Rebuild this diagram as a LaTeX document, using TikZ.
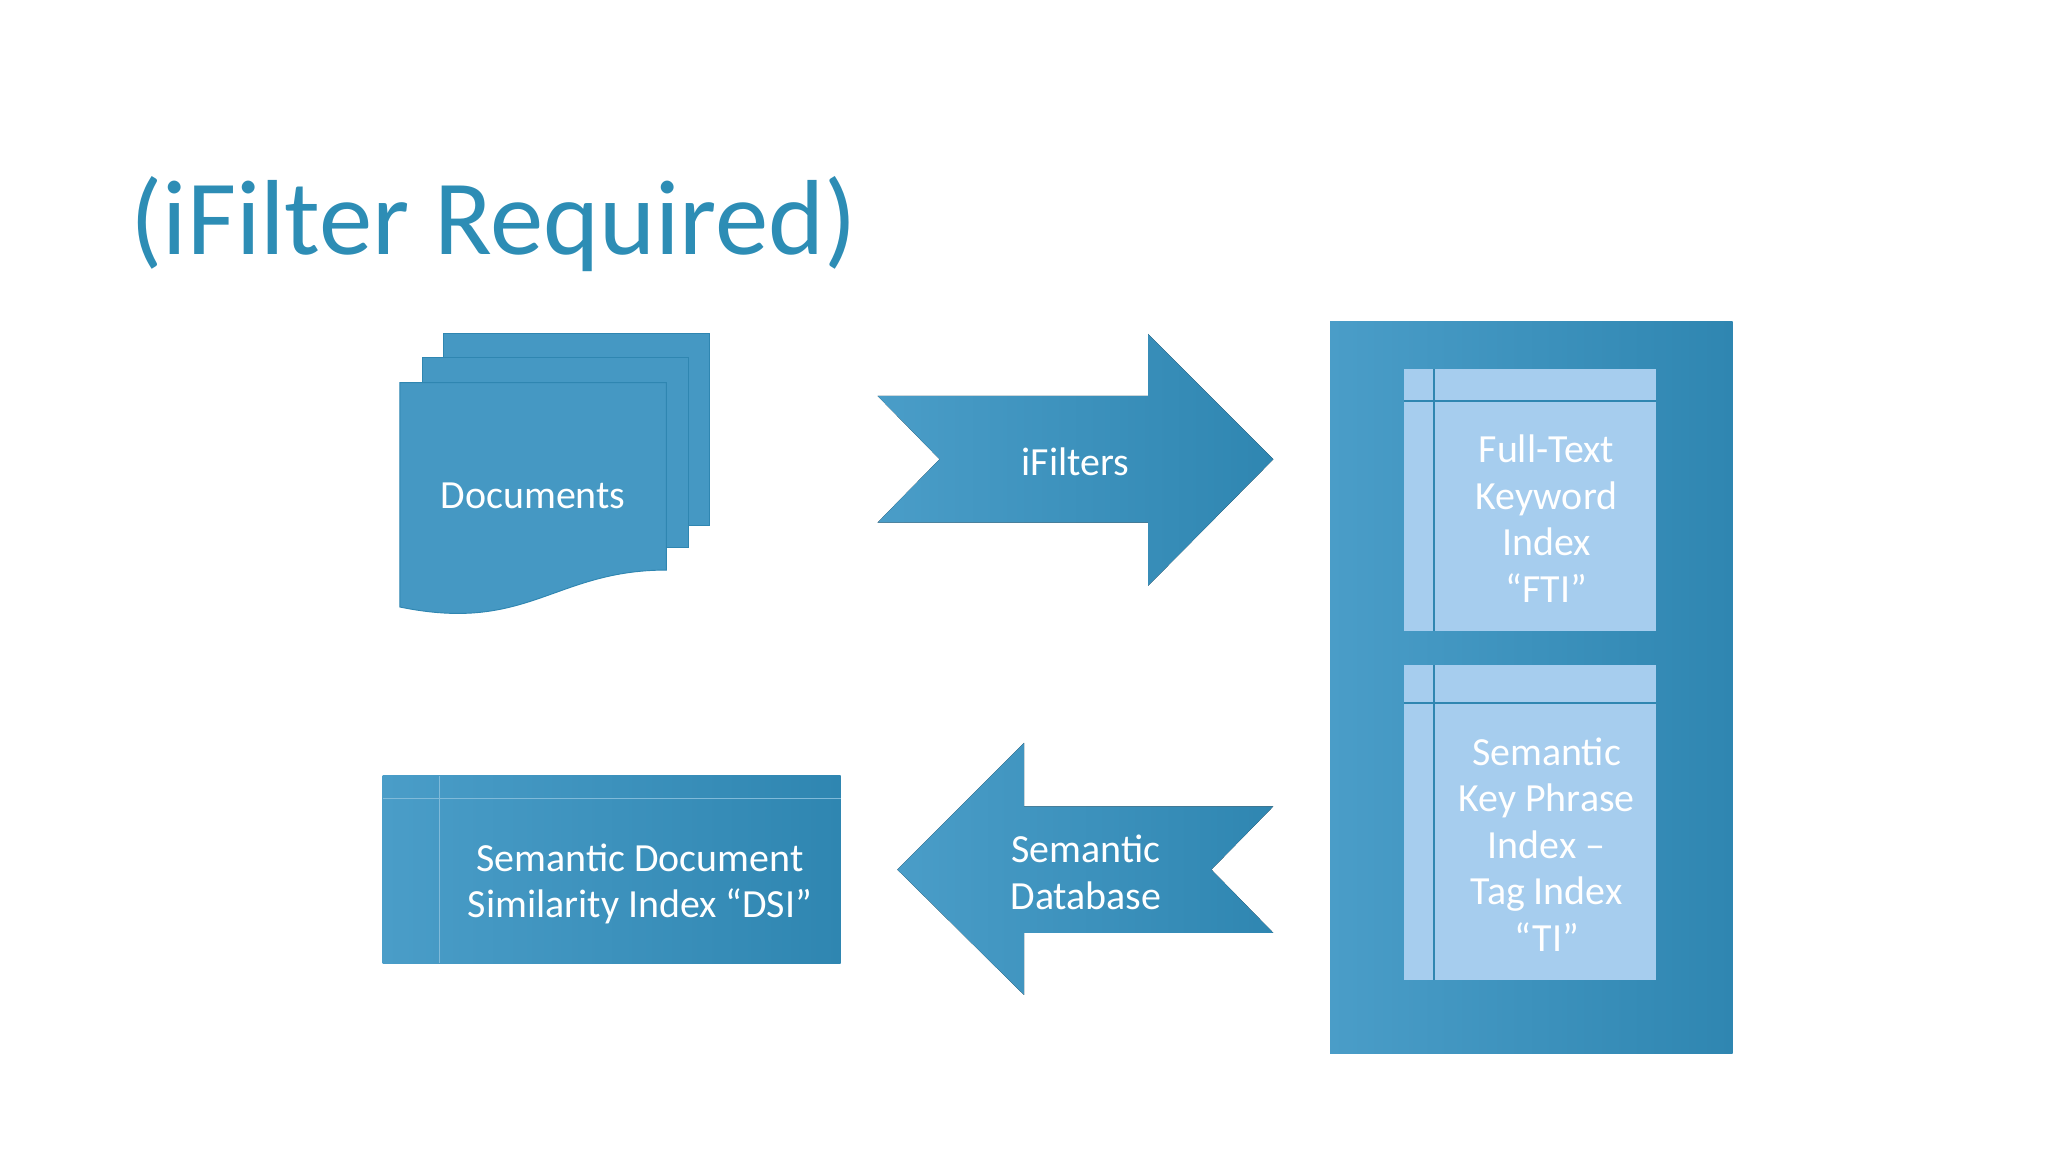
\documentclass[tikz,border=0pt]{standalone}
\usepackage{fontspec}
\setmainfont{Carlito}
\definecolor{teal1}{HTML}{4A9DC8}
\definecolor{teal2}{HTML}{2F86B1}
\definecolor{pale}{HTML}{A6CDEE}
\definecolor{titleblue}{HTML}{2D8DB5}
\tikzset{
  blockfill/.style={left color=teal1, right color=teal2, draw=none},
  pagefill/.style={fill=teal1!80!teal2, draw=teal2, line width=0.2pt},
  lbl/.style={text=white, align=center, font=\fontsize{8.6}{10}\selectfont},
  inlbl/.style={text=white, align=center, font=\fontsize{8.6}{10}\selectfont},
  rule/.style={draw=teal2, line width=0.4pt}
}
\begin{document}
\begin{tikzpicture}[x=0.01cm,y=-0.01cm]
\useasboundingbox (0,0) rectangle (1552,873);
% title
\node[anchor=base west, text=titleblue, font=\fontsize{23}{28}\selectfont, inner sep=0pt] (title) at (98,193) {(iFilter Required)};
% documents
\fill[pagefill] (336,253) rectangle (538,398);
\fill[pagefill] (320,271) -- (522,271) -- (522,415) -- (320,415) -- cycle;
\fill[pagefill] (303,290) -- (505,290) -- (505,432) .. controls (420,432) and (400,480) .. (303,460) -- cycle;
\node[lbl] (docs) at (404,376) {Documents};
% ifilters arrow
\fill[blockfill] (665,300) -- (870,300) -- (870,253) -- (965,348) -- (870,444) -- (870,396) -- (665,396) -- (712,348) -- cycle;
\node[lbl] (ifilters) at (815,350) {iFilters};
% index container
\fill[blockfill] (1008,244) rectangle (1313,798);
\fill[pale] (1064,280) rectangle (1255,478);
\draw[rule] (1087,280) -- (1087,478) (1064,304) -- (1255,304);
\node[inlbl] (fti) at (1172,393) {Full-Text\\Keyword\\Index\\“FTI”};
\fill[pale] (1064,504) rectangle (1255,743);
\draw[rule] (1087,504) -- (1087,743) (1064,533) -- (1255,533);
\node[inlbl] (ti) at (1172,640) {Semantic\\Key Phrase\\Index –\\Tag Index\\“TI”};
% semantic database arrow
\fill[blockfill] (680,659) -- (776,563) -- (776,611) -- (965,611) -- (918,659) -- (965,707) -- (776,707) -- (776,754) -- cycle;
\node[lbl] (sdb) at (823,661) {Semantic\\Database};
% dsi
\fill[blockfill] (290,588) rectangle (637,730);
\draw[draw=teal1!70!white, line width=0.3pt] (290,605) -- (637,605) (333,588) -- (333,730);
\node[lbl] (dsi) at (485,670) {Semantic Document\\Similarity Index “DSI”};
\end{tikzpicture}
\end{document}
